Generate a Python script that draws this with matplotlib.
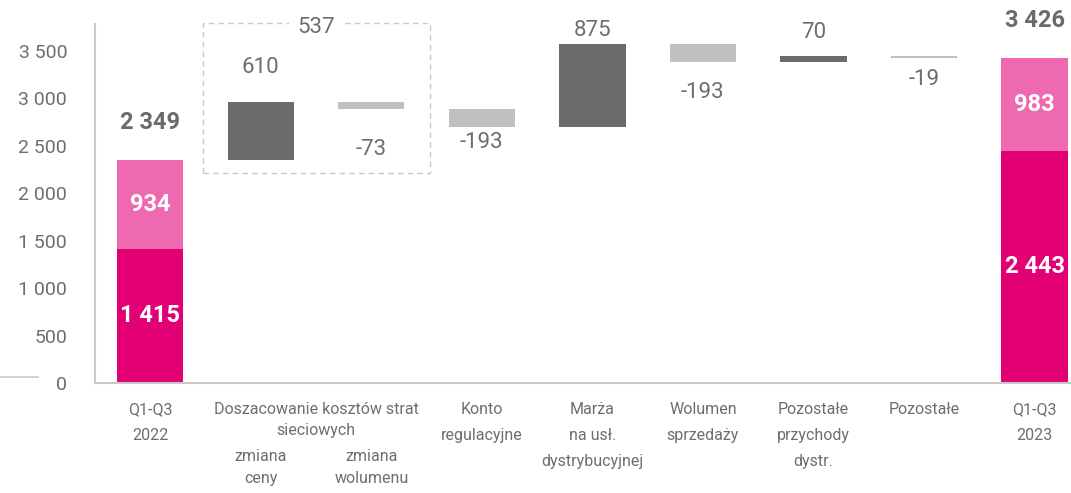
import matplotlib
matplotlib.use("Agg")
import matplotlib.pyplot as plt
from matplotlib.lines import Line2D
from matplotlib.patches import Rectangle

plt.rcParams['font.family'] = ['Roboto', 'DejaVu Sans']

# data
categories = ["Q1-Q3\n2022", "zmiana\nceny", "zmiana\nwolumenu", "Konto\nregulacyjne",
              "Marża\nna usł.\ndystrybucyjnej", "Wolumen\nsprzedaży",
              "Pozostałe\nprzychody\ndystr.", "Pozostałe", "Q1-Q3\n2023"]
start_parts = [1415, 934]
end_parts = [2443, 983]
changes = [610, -73, -193, 875, -193, 70, -19]
group_label = "Doszacowanie kosztów strat\nsieciowych"
yticks = [0, 500, 1000, 1500, 2000, 2500, 3000, 3500]

# styles
MAGENTA = "#E20074"
PINK = "#EE69B0"
DARK = "#6B6B6B"
LIGHT = "#C0C0C0"
TEXT = "#6E6E6E"
AXIS = "#C8C8C8"
# label distance from bar edge, pixels (one per change bar)
label_gap = [34, 41, 15, 14, 30, 23, 22]


def fmt(v):
    return f"{v:,}".replace(",", " ")


W, H = 1071, 493
fig = plt.figure(figsize=(W / 100, H / 100), dpi=100)
ax = fig.add_axes([95 / W, (H - 383) / H, (W - 95) / W, (383 - 24) / H])
ax.set_xlim(-0.5, 8.33)
ax.set_ylim(0, 3780)

bw = 0.6
px = 0.72  # points per pixel

# start bar
ax.bar(0, start_parts[0], width=bw, color=MAGENTA)
ax.bar(0, start_parts[1], bottom=start_parts[0], width=bw, color=PINK)

# change bars
level = sum(start_parts)
for i, ch in enumerate(changes):
    x = i + 1
    bottom = level if ch >= 0 else level + ch
    ax.bar(x, abs(ch), bottom=bottom, width=bw, color=DARK if ch >= 0 else LIGHT)
    off = label_gap[i] if ch >= 0 else -label_gap[i]
    ax.annotate(fmt(ch), (x, level + ch), xytext=(0, off * px), textcoords="offset points",
                ha="center", va="center", fontsize=16, color=TEXT, annotation_clip=False)
    level += ch

# end bar
ax.bar(8, end_parts[0], width=bw, color=MAGENTA)
ax.bar(8, end_parts[1], bottom=end_parts[0], width=bw, color=PINK)

# labels inside stacked bars and totals on top
for x, parts in [(0, start_parts), (8, end_parts)]:
    ax.text(x, parts[0] / 2, fmt(parts[0]), ha="center", va="center",
            fontsize=17, fontweight="bold", color="white")
    ax.text(x, parts[0] + parts[1] / 2, fmt(parts[1]), ha="center", va="center",
            fontsize=17, fontweight="bold", color="white")
    ax.annotate(fmt(sum(parts)), (x, sum(parts)), xytext=(0, 37 * px),
                textcoords="offset points", ha="center", va="center",
                fontsize=17, fontweight="bold", color=DARK, annotation_clip=False)

# dashed group box around the two network-loss bars
box = Rectangle((0.48, 2213), 2.05, 1580, fill=False, ls=(0, (4, 3)),
                ec=AXIS, lw=1, clip_on=False)
ax.add_patch(box)
ax.text(1.5, 3745, fmt(changes[0] + changes[1]), ha="center", va="center",
        fontsize=16, color=TEXT, bbox=dict(fc="white", ec="none", pad=6), clip_on=False)

# axes styling
for s in ["top", "right"]:
    ax.spines[s].set_visible(False)
for s in ["left", "bottom"]:
    ax.spines[s].set_color(AXIS)
    ax.spines[s].set_linewidth(1.5)
ax.set_yticks(yticks)
ax.set_yticklabels([fmt(v) for v in yticks])
ax.tick_params(axis="y", length=0, pad=20, labelsize=14, labelcolor=TEXT)
ax.set_xticks([])

# category labels
trans = ax.get_xaxis_transform()
for x, lab in enumerate(categories):
    if x in (1, 2):
        ax.annotate(lab, (x, 0), xycoords=trans, xytext=(0, -66 * px),
                    textcoords="offset points", ha="center", va="top",
                    fontsize=11.5, color=TEXT, linespacing=1.55, annotation_clip=False)
    else:
        ax.annotate(lab, (x, 0), xycoords=trans, xytext=(0, -19 * px),
                    textcoords="offset points", ha="center", va="top",
                    fontsize=11.5, color=TEXT, linespacing=1.9, annotation_clip=False)
ax.annotate(group_label, (1.5, 0), xycoords=trans, xytext=(0, -19 * px),
            textcoords="offset points", ha="center", va="top",
            fontsize=11.5, color=TEXT, linespacing=1.5, annotation_clip=False)

# stray short rule at the far left
fig.add_artist(Line2D([0, 38 / W], [(H - 377) / H] * 2, color=AXIS, lw=1.2))

fig.savefig("out.png", dpi=100)
